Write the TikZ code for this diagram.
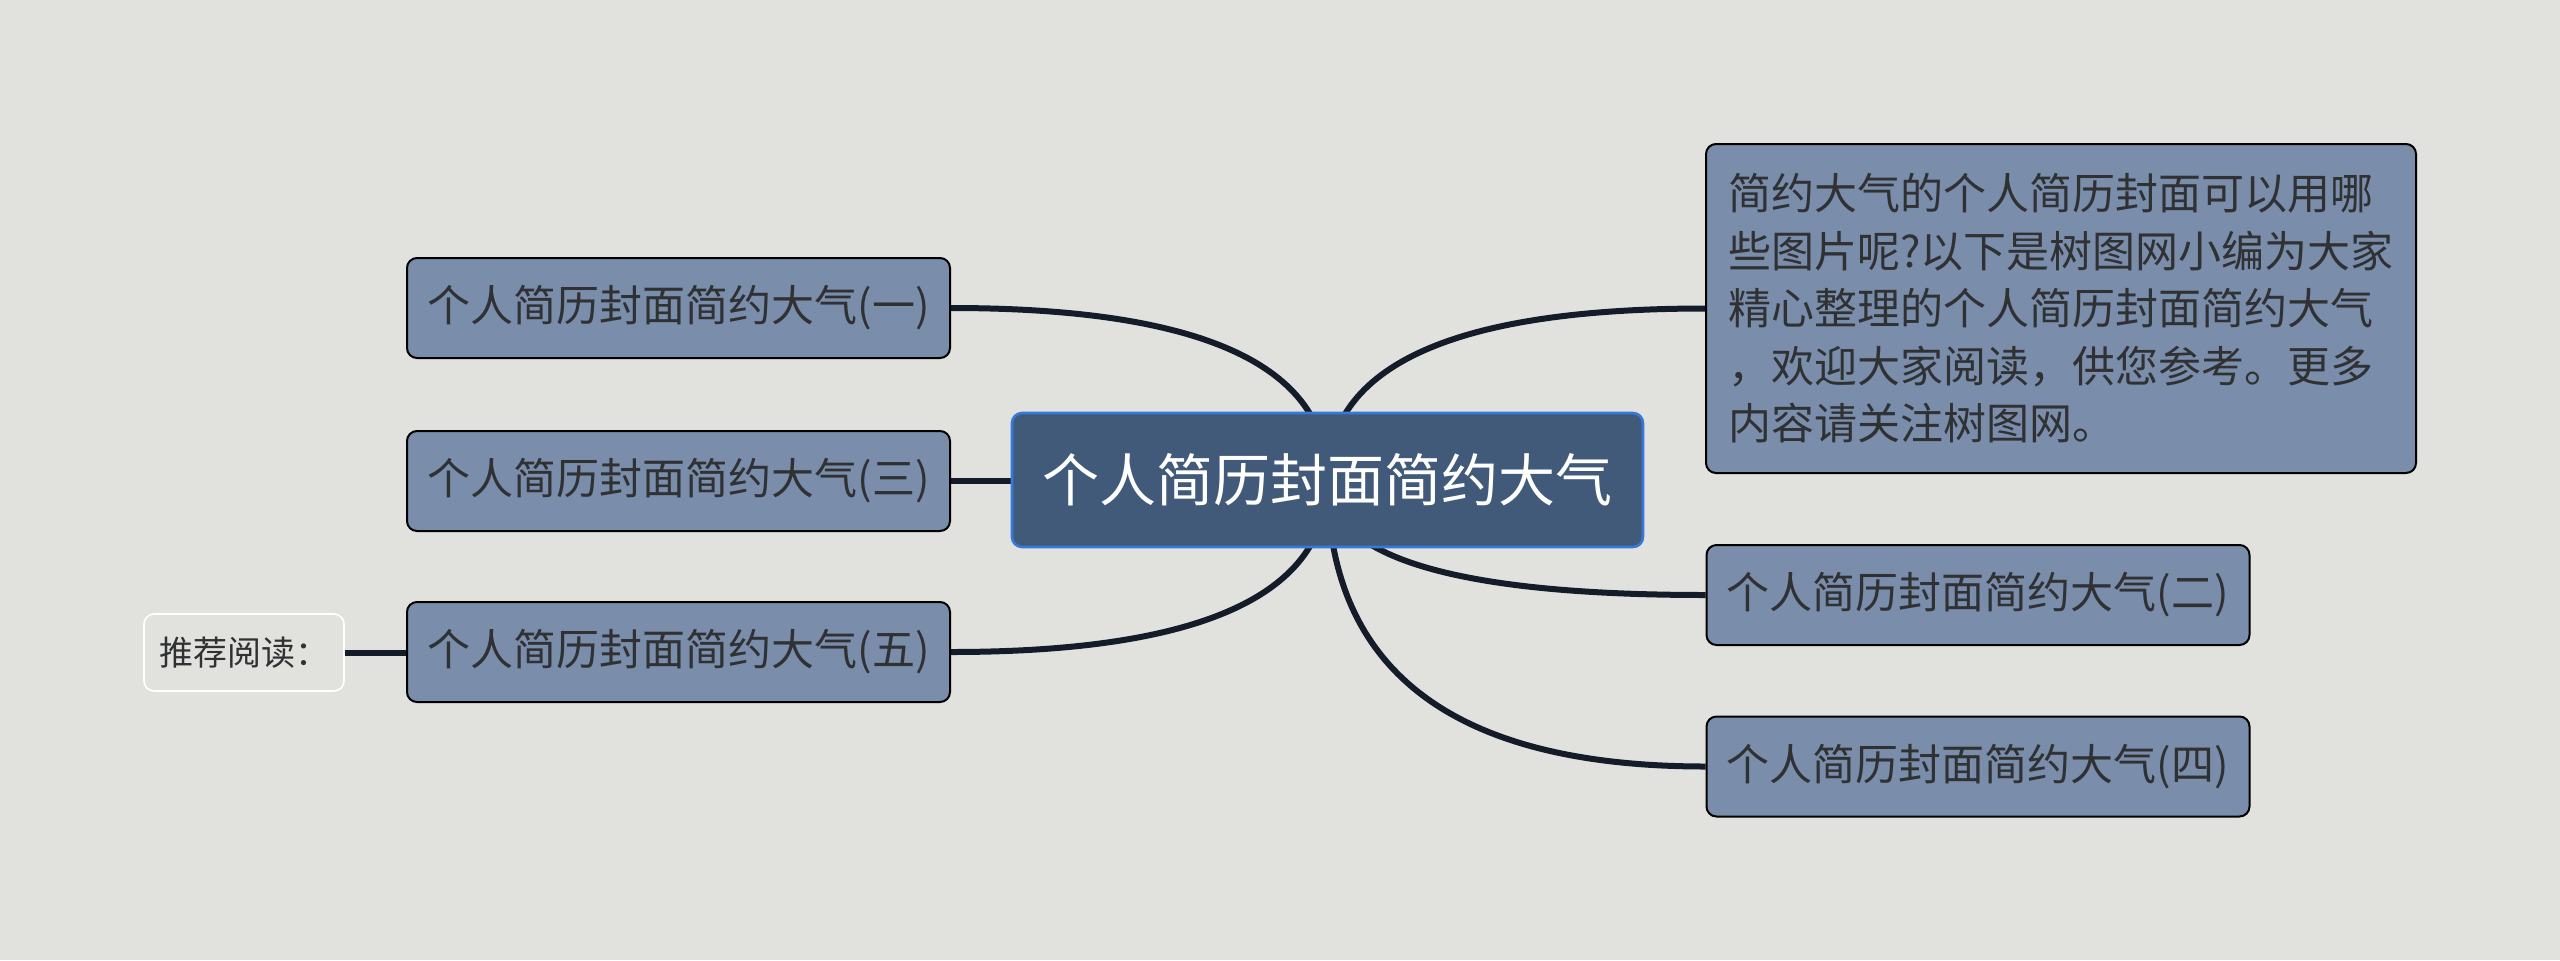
\documentclass[tikz,border=0pt]{standalone}
\usepackage{fontspec}
\newfontfamily\cjk{Noto Sans CJK SC}
\usetikzlibrary{calc,backgrounds}
\definecolor{bg}{HTML}{E1E2DE}
\definecolor{branchfill}{HTML}{7A8DAB}
\definecolor{rootfill}{HTML}{415A79}
\definecolor{rootborder}{HTML}{3679DA}
\definecolor{linkcol}{HTML}{141C2A}
\definecolor{txt}{HTML}{2F3133}
\tikzset{
  rootbox/.style={draw=rootborder, line width=1.3pt, fill=rootfill, rounded corners=5pt,
    minimum width=315.5pt, minimum height=67pt, inner sep=0pt, text=white,
    font=\cjk\fontsize{28.5pt}{34pt}\selectfont},
  branchbox/.style={draw=black, line width=1pt, fill=branchfill, rounded corners=5pt,
    minimum width=271.5pt, minimum height=50pt, inner sep=0pt, text=txt,
    font=\cjk\fontsize{21.5pt}{28.75pt}\selectfont},
  descbox/.style={branchbox, minimum width=355pt, minimum height=164.5pt, align=left},
  notebox/.style={draw=white, line width=0.8pt, fill=bg, rounded corners=5pt,
    minimum width=100pt, minimum height=38.5pt, inner sep=0pt, text=txt,
    font=\cjk\fontsize{17pt}{20pt}\selectfont},
  link/.style={draw=linkcol, line width=3pt}
}
\begin{document}
\begin{tikzpicture}[x=0.5pt,y=-0.5pt]
\begin{pgfonlayer}{background}
\path[fill=bg] (0,0) rectangle (2560,960);
\end{pgfonlayer}
\node[rootbox] (root) at (1327.5,480) {个人简历封面简约大气};
\node[branchbox] (b1) at (678.5,308) {个人简历封面简约大气(一)};
\node[branchbox] (b3) at (678.5,481) {个人简历封面简约大气(三)};
\node[branchbox] (b5) at (678.5,652) {个人简历封面简约大气(五)};
\node[notebox] (rec) at (244,652.5) {推荐阅读：};
\node[descbox] (desc) at (2061,308.5) {简约大气的个人简历封面可以用哪\\些图片呢?以下是树图网小编为大家\\精心整理的个人简历封面简约大气\\，欢迎大家阅读，供您参考。更多\\内容请关注树图网。};
\node[branchbox] (b2) at (1978,595) {个人简历封面简约大气(二)};
\node[branchbox] (b4) at (1978,766.5) {个人简历封面简约大气(四)};
\begin{pgfonlayer}{background}
\foreach \e in {b1.east,b5.east,desc.west,b2.west,b4.west}{
  \draw[link] (root.center) .. controls ($(root.center)!2/3!(root.center|-\e)$) and ($(\e)!2/3!(root.center|-\e)$) .. (\e);
}
\draw[link] (b3.east) -- (b3.east-|root.west);
\draw[link] (rec.east) -- (rec.east-|b5.west);
\end{pgfonlayer}
\end{tikzpicture}
\end{document}
